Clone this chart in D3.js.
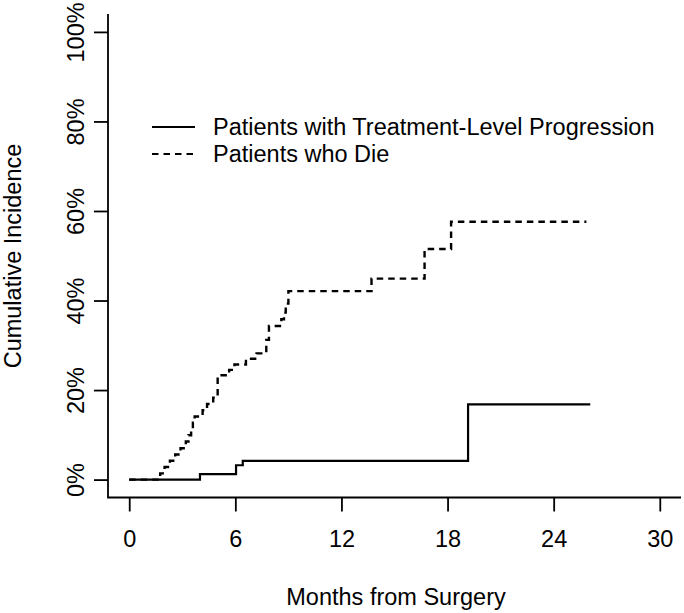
<!DOCTYPE html>
<html>
<head>
<meta charset="utf-8">
<script src="https://cdn.jsdelivr.net/npm/d3@7"></script>
<style>
  html, body { margin: 0; padding: 0; background: #fff; }
  svg { display: block; font-family: "Liberation Sans", Arial, sans-serif; }
</style>
</head>
<body>
<svg id="chart" width="684" height="613"></svg>
<script>
// ---- data ----
const xTicks = [0, 6, 12, 18, 24, 30];
const yTicks = [0, 0.2, 0.4, 0.6, 0.8, 1.0];
const yTickLabels = ["0%", "20%", "40%", "60%", "80%", "100%"];

// Patients with Treatment-Level Progression (step times, cumulative incidence after step)
const progTimes  = [0, 4.0, 6.04, 6.42, 19.16, 26.07];
const progValues = [0, 0.012, 0.032, 0.042, 0.168, 0.168];

// Patients who Die
const dieTimes  = [0, 1.75, 2.0, 2.3, 2.6, 2.9, 3.2, 3.35, 3.5, 3.6, 3.7, 4.15, 4.4, 4.75, 5.0,
                   5.65, 5.95, 6.6, 7.2, 7.75, 7.9, 8.6, 8.75, 8.85, 9.0, 13.7, 16.7, 18.2, 25.85];
const dieValues = [0, 0.014, 0.028, 0.042, 0.056, 0.07, 0.085, 0.099, 0.113, 0.127, 0.141, 0.155, 0.169, 0.183, 0.233,
                   0.245, 0.257, 0.27, 0.282, 0.312, 0.343, 0.358, 0.373, 0.393, 0.421, 0.449, 0.515, 0.576, 0.576];

const legendLabels = ["Patients with Treatment-Level Progression", "Patients who Die"];

// ---- layout ----
const svg = d3.select("#chart");
const fontSize = 23.5;
const x = d3.scaleLinear().domain([-1.2, 31.2]).range([108, 681]);
const y = d3.scaleLinear().domain([-0.04, 1.04]).range([497.5, 14]);

// L-shaped box
svg.append("path")
  .attr("d", `M${x.range()[0]},${y.range()[1]}V${y.range()[0]}H${x.range()[1]}`)
  .attr("fill", "none").attr("stroke", "#000").attr("stroke-width", 1.8);

// x axis ticks & labels
const xAxis = d3.axisBottom(x).tickValues(xTicks).tickSize(14).tickPadding(19).tickFormat(d3.format("d"));
const gx = svg.append("g").attr("transform", `translate(0,${y.range()[0]})`).call(xAxis);
gx.select(".domain").remove();
gx.selectAll(".tick line").attr("stroke", "#000").attr("stroke-width", 1.8);
gx.selectAll(".tick text").attr("font-size", fontSize).attr("font-family", "Liberation Sans, Arial, sans-serif").attr("fill", "#000");

// y axis ticks & labels
const yAxis = d3.axisLeft(y).tickValues(yTicks).tickSize(14).tickFormat((d, i) => yTickLabels[i]);
const gy = svg.append("g").attr("transform", `translate(${x.range()[0]},0)`).call(yAxis);
gy.select(".domain").remove();
gy.selectAll(".tick line").attr("stroke", "#000").attr("stroke-width", 1.8);
gy.selectAll(".tick text")
  .attr("font-size", fontSize).attr("font-family", "Liberation Sans, Arial, sans-serif").attr("fill", "#000")
  .attr("x", null).attr("dy", null)
  .attr("text-anchor", "middle")
  .attr("transform", "translate(-32,0) rotate(-90)")
  .attr("dy", "0.35em");

// axis titles
svg.append("text").attr("x", 396).attr("y", 605).attr("text-anchor", "middle")
  .attr("font-size", fontSize).text("Months from Surgery");
svg.append("text").attr("transform", "translate(21,256) rotate(-90)").attr("text-anchor", "middle")
  .attr("font-size", fontSize).text("Cumulative Incidence");

// step lines
const line = d3.line().curve(d3.curveStepAfter).x(d => x(d[0])).y(d => y(d[1]));
const progData = progTimes.map((t, i) => [t, progValues[i]]);
const dieData = dieTimes.map((t, i) => [t, dieValues[i]]);

svg.append("path").datum(progData).attr("d", line)
  .attr("fill", "none").attr("stroke", "#000").attr("stroke-width", 2.2);
svg.append("path").datum(dieData).attr("d", line)
  .attr("fill", "none").attr("stroke", "#000").attr("stroke-width", 2.4)
  .attr("stroke-dasharray", "6.5,5");

// legend
const leg = svg.append("g");
[0, 1].forEach(i => {
  const ly = 127 + i * 27;
  leg.append("line").attr("x1", 152).attr("x2", 195).attr("y1", ly).attr("y2", ly)
    .attr("stroke", "#000").attr("stroke-width", 2.2)
    .attr("stroke-dasharray", i === 1 ? "6.5,5" : null);
  leg.append("text").attr("x", 213).attr("y", ly).attr("dy", "0.35em")
    .attr("font-size", fontSize).text(legendLabels[i]);
});
</script>
</body>
</html>
